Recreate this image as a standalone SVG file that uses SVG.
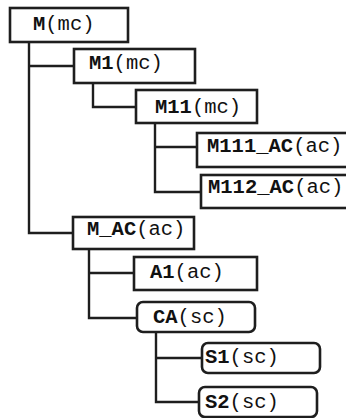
<svg xmlns="http://www.w3.org/2000/svg" width="346" height="418" viewBox="0 0 346 418">
  <style>
    .box { fill: #ffffff; stroke: #1e1e1e; stroke-width: 2.6; }
    .wire { fill: none; stroke: #1e1e1e; stroke-width: 2.4; stroke-linecap: square; }
    text { font-family: "Liberation Mono", "Courier New", monospace; font-size: 20.5px; fill: #111; }
    .n { font-weight: bold; }
  </style>
  <rect width="346" height="418" fill="#ffffff"/>

  <!-- tree connectors -->
  <g id="connectors">
    <path class="wire" d="M29 42 V233 H73 M29 66 H74"/>
    <path class="wire" d="M93 83 V107 H136"/>
    <path class="wire" d="M155 123 V192 H201 M155 147 H197"/>
    <path class="wire" d="M89 250 V318 H137 M89 273 H134"/>
    <path class="wire" d="M156 332 V402 H199 M156 358 H202"/>
  </g>

  <g id="M">
    <rect class="box" x="10" y="8" width="118" height="34"/>
    <text x="33" y="30"><tspan class="n">M</tspan>(mc)</text>
  </g>
  <g id="M1">
    <rect class="box" x="74" y="49" width="121" height="34"/>
    <text x="89" y="69"><tspan class="n">M1</tspan>(mc)</text>
  </g>
  <g id="M11">
    <rect class="box" x="136" y="90" width="121" height="33"/>
    <text x="155" y="113"><tspan class="n">M11</tspan>(mc)</text>
  </g>
  <g id="M111_AC">
    <rect class="box" x="197" y="133" width="156" height="34"/>
    <text x="207" y="152"><tspan class="n">M111_AC</tspan>(ac)</text>
  </g>
  <g id="M112_AC">
    <rect class="box" x="201" y="175" width="152" height="33"/>
    <text x="208" y="193"><tspan class="n">M112_AC</tspan>(ac)</text>
  </g>
  <g id="M_AC">
    <rect class="box" x="73" y="217" width="121" height="32"/>
    <text x="87" y="235"><tspan class="n">M_AC</tspan>(ac)</text>
  </g>
  <g id="A1">
    <rect class="box" x="134" y="257" width="123" height="33"/>
    <text x="150" y="278"><tspan class="n">A1</tspan>(ac)</text>
  </g>
  <g id="CA">
    <rect class="box" x="137" y="302" width="118" height="30" rx="6"/>
    <text x="153" y="323"><tspan class="n">CA</tspan>(sc)</text>
  </g>
  <g id="S1">
    <rect class="box" x="202" y="343" width="118" height="30" rx="6"/>
    <text x="205" y="363"><tspan class="n">S1</tspan>(sc)</text>
  </g>
  <g id="S2">
    <rect class="box" x="199" y="387" width="118" height="30" rx="6"/>
    <text x="205" y="408"><tspan class="n">S2</tspan>(sc)</text>
  </g>
</svg>
